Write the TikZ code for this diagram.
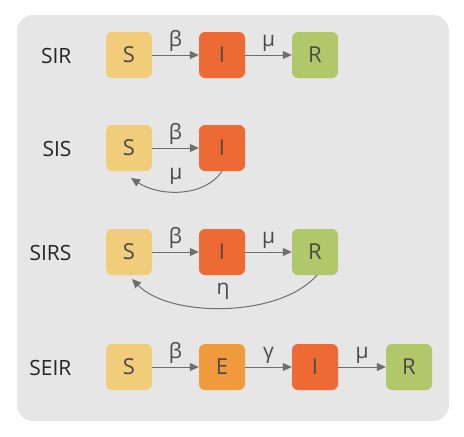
\documentclass[tikz,border=0pt]{standalone}
\usepackage{fontspec}
\setmainfont{Open Sans}
\usetikzlibrary{arrows.meta}
\definecolor{bgc}{HTML}{E6E6E6}
\definecolor{cS}{HTML}{F1CC7B}
\definecolor{cI}{HTML}{EE6A35}
\definecolor{cR}{HTML}{B0C76A}
\definecolor{cE}{HTML}{F09A3E}
\definecolor{arc}{HTML}{6E6E6E}
\definecolor{txt}{HTML}{4A4A4A}
\tikzset{
  box/.style={minimum width=46pt,minimum height=46pt,rounded corners=6pt,inner sep=0pt,text=txt,font=\fontsize{22}{24}\selectfont},
  model/.style={text=black!85,font=\fontsize{21}{23}\selectfont,anchor=east},
  arr/.style={draw=arc,line width=1pt,-{Triangle[length=9pt,width=8pt]}},
  rate/.style={text=txt,font=\fontsize{21}{23}\selectfont}
}
\begin{document}
\begin{tikzpicture}[x=1pt,y=-1pt]
\useasboundingbox (0,0) rectangle (464,437);
\fill[bgc,rounded corners=16pt] (17,15) rectangle (449,421);
% SIR
\node[model] (l1) at (75,56) {SIR};
\node[box,fill=cS] (s1) at (129,55) {S};
\node[box,fill=cI] (i1) at (222,55) {I};
\node[box,fill=cR] (r1) at (315,55) {R};
\draw[arr] (s1) -- node[rate,above=0pt] (b1) {β} (i1);
\draw[arr] (i1) -- node[rate,above=0pt] (m1) {μ} (r1);
% SIS
\node[model] (l2) at (75,149) {SIS};
\node[box,fill=cS] (s2) at (129,148) {S};
\node[box,fill=cI] (i2) at (222,148) {I};
\draw[arr] (s2) -- node[rate,above=0pt] (b2) {β} (i2);
\draw[arr] (i2.south) .. controls (205,197) and (160,197) .. (131,178);
\node[rate] (m2) at (176,176) {μ};
% SIRS
\node[model] (l3) at (75,253) {SIRS};
\node[box,fill=cS] (s3) at (129,252) {S};
\node[box,fill=cI] (i3) at (222,252) {I};
\node[box,fill=cR] (r3) at (315,252) {R};
\draw[arr] (s3) -- node[rate,above=0pt] (b3) {β} (i3);
\draw[arr] (i3) -- node[rate,above=0pt] (m3) {μ} (r3);
\draw[arr] (317,275) .. controls (280,318) and (170,318) .. (132,279);
\node[rate] (e3) at (223,291) {η};
% SEIR
\node[model] (l4) at (75,368) {SEIR};
\node[box,fill=cS] (s4) at (129,367) {S};
\node[box,fill=cE] (e4) at (222,367) {E};
\node[box,fill=cI] (i4) at (315,367) {I};
\node[box,fill=cR] (r4) at (409,367) {R};
\draw[arr] (s4) -- node[rate,above=0pt] (b4) {β} (e4);
\draw[arr] (e4) -- node[rate,above=0pt] (g4) {γ} (i4);
\draw[arr] (i4) -- node[rate,above=0pt] (m4) {μ} (r4);
\end{tikzpicture}
\end{document}
